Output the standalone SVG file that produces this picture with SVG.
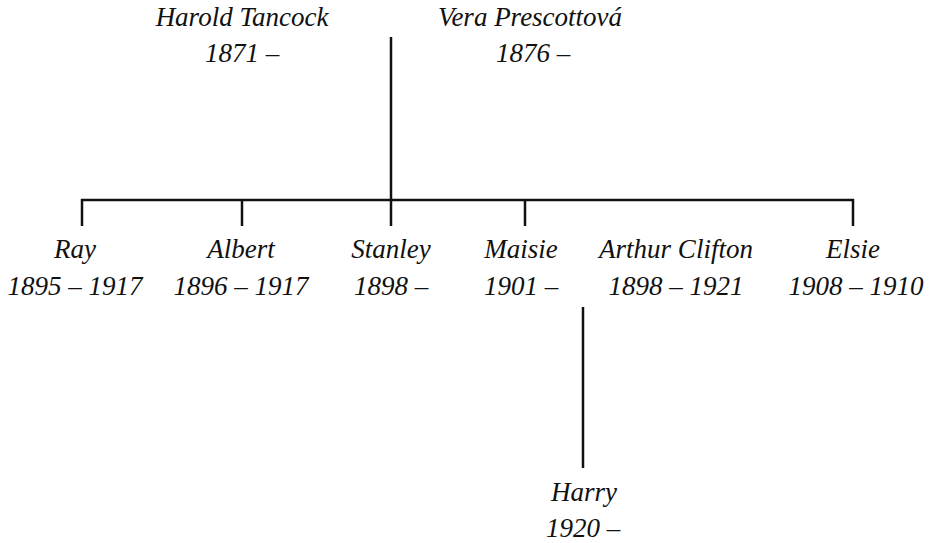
<svg xmlns="http://www.w3.org/2000/svg" width="940" height="543" viewBox="0 0 940 543">
<style>
text{font-family:"Liberation Serif","Times New Roman",serif;font-style:italic;font-size:27px;fill:#111;text-anchor:middle}
.ln{stroke:#111;stroke-width:2.5;fill:none}
</style>
<rect width="940" height="543" fill="#fff"/>
<g id="connectors">
<line class="ln" x1="391" y1="37" x2="391" y2="201"/>
<line class="ln" x1="81" y1="200" x2="854" y2="200"/>
<line class="ln" x1="82" y1="199" x2="82" y2="226"/>
<line class="ln" x1="242" y1="199" x2="242" y2="226"/>
<line class="ln" x1="391" y1="199" x2="391" y2="226"/>
<line class="ln" x1="525" y1="199" x2="525" y2="226"/>
<line class="ln" x1="853" y1="199" x2="853" y2="226"/>
<line class="ln" x1="583" y1="307" x2="583" y2="468"/>
</g>
<g id="harold"><text x="242" y="26">Harold Tancock</text><text x="242" y="62">1871 –</text></g>
<g id="vera"><text x="530" y="26">Vera Prescottová</text><text x="533" y="62">1876 –</text></g>
<g id="ray"><text x="75" y="258">Ray</text><text x="75" y="295">1895 – 1917</text></g>
<g id="albert"><text x="241" y="258">Albert</text><text x="241" y="295">1896 – 1917</text></g>
<g id="stanley"><text x="391" y="258">Stanley</text><text x="391" y="295">1898 –</text></g>
<g id="maisie"><text x="521" y="258">Maisie</text><text x="521" y="295">1901 –</text></g>
<g id="arthur"><text x="676" y="258">Arthur Clifton</text><text x="676" y="295">1898 – 1921</text></g>
<g id="elsie"><text x="853" y="258">Elsie</text><text x="856" y="295">1908 – 1910</text></g>
<g id="harry"><text x="584" y="501">Harry</text><text x="583" y="537">1920 –</text></g>
</svg>
